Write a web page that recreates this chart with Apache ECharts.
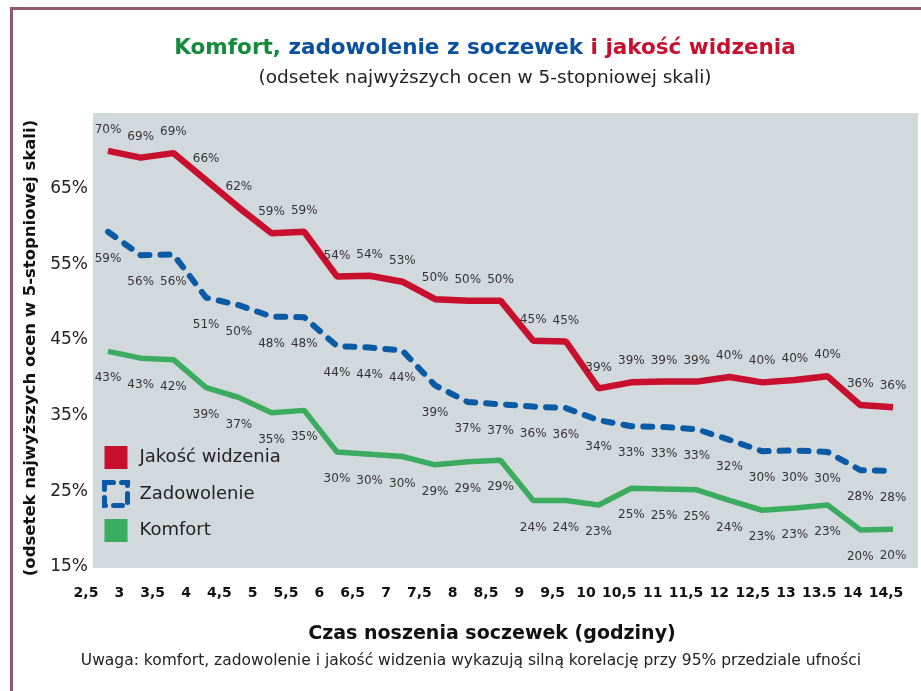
<!DOCTYPE html>
<html>
<head>
<meta charset="utf-8">
<script src="https://cdn.jsdelivr.net/npm/echarts@6/dist/echarts.min.js"></script>
<style>
  html, body { margin: 0; padding: 0; background: #fff; }
  #chart { width: 921px; height: 691px; }
</style>
</head>
<body>
<div id="chart"></div>
<script>
// godziny noszenia (etykiety osi X)
var xLabels = ['2,5', '3', '3,5', '4', '4,5', '5', '5,5', '6', '6,5', '7', '7,5', '8', '8,5',
  '9', '9,5', '10', '10,5', '11', '11,5', '12', '12,5', '13', '13.5', '14', '14,5']

// przebieg linii (%)
var jakosc = [70.0, 69.1, 69.7, 66.1, 62.5, 59.1, 59.3, 53.4, 53.5, 52.7, 50.4, 50.2, 50.2,
  44.9, 44.8, 38.6, 39.4, 39.5, 39.5, 40.1, 39.4, 39.7, 40.2, 36.4, 36.1]
var zadowolenie = [59.3, 56.2, 56.3, 50.6, 49.6, 48.1, 48.0, 44.2, 44.0, 43.6, 39.0, 36.8, 36.5,
  36.2, 36.0, 34.4, 33.6, 33.5, 33.2, 31.8, 30.3, 30.4, 30.2, 27.8, 27.7]
var komfort = [43.5, 42.6, 42.4, 38.7, 37.4, 35.4, 35.7, 30.2, 29.9, 29.6, 28.5, 28.9, 29.1,
  23.8, 23.8, 23.2, 25.4, 25.3, 25.2, 23.8, 22.5, 22.8, 23.2, 19.9, 20.0]

// wartosci podpisane na wykresie
var jakoscLabels = [70, 69, 69, 66, 62, 59, 59, 54, 54, 53, 50, 50, 50, 45, 45, 39, 39, 39, 39, 40, 40, 40, 40, 36, 36]
var zadowolenieLabels = [59, 56, 56, 51, 50, 48, 48, 44, 44, 44, 39, 37, 37, 36, 36, 34, 33, 33, 33, 32, 30, 30, 30, 28, 28]
var komfortLabels = [43, 43, 42, 39, 37, 35, 35, 30, 30, 30, 29, 29, 29, 24, 24, 23, 25, 25, 25, 24, 23, 23, 23, 20, 20]

var yTicks = [15, 25, 35, 45, 55, 65]

var RED = '#c8102e'
var BLUE = '#0a5aa5'
var GREEN = '#3bab5f'
var FONT = 'DejaVu Sans'

var myChart = echarts.init(document.getElementById('chart'), null, { renderer: 'canvas' })

function dataLabel(arr, pos, dist) {
  return {
    show: true,
    position: pos,
    distance: dist,
    fontFamily: FONT,
    fontSize: 12,
    color: '#333',
    formatter: function (p) { return arr[p.dataIndex] + '%' }
  }
}

var option = {
  backgroundColor: '#fff',
  animation: false,
  title: [
    {
      text: '{g|Komfort,} {b|zadowolenie z soczewek} {r|i jakość widzenia}',
      left: 485, top: 37, textAlign: 'center', padding: 0,
      textStyle: {
        fontFamily: FONT, fontSize: 21.5, fontWeight: 'bold',
        rich: {
          g: { color: '#138a3c', fontFamily: FONT, fontSize: 21.5, fontWeight: 'bold' },
          b: { color: '#0b4fa0', fontFamily: FONT, fontSize: 21.5, fontWeight: 'bold' },
          r: { color: RED, fontFamily: FONT, fontSize: 21.5, fontWeight: 'bold' }
        }
      }
    },
    {
      text: '(odsetek najwyższych ocen w 5-stopniowej skali)',
      left: 485, top: 69, textAlign: 'center', padding: 0,
      textStyle: { fontFamily: FONT, fontSize: 18.5, fontWeight: 'normal', color: '#222' }
    },
    {
      text: 'Czas noszenia soczewek (godziny)',
      left: 492, top: 625, textAlign: 'center', padding: 0,
      textStyle: { fontFamily: FONT, fontSize: 19, fontWeight: 'bold', color: '#111' }
    },
    {
      text: 'Uwaga: komfort, zadowolenie i jakość widzenia wykazują silną korelację przy 95% przedziale ufności',
      left: 471, top: 653, textAlign: 'center', padding: 0,
      textStyle: { fontFamily: FONT, fontSize: 15.5, fontWeight: 'normal', color: '#222' }
    }
  ],
  legend: {
    orient: 'vertical',
    left: 102, top: 446, padding: 0,
    itemWidth: 23, itemHeight: 23, itemGap: 11,
    textStyle: { fontFamily: FONT, fontSize: 18, color: '#222', padding: [0, 0, 0, 7] },
    data: [
      { name: 'Jakość widzenia', icon: 'rect', itemStyle: { color: RED, borderWidth: 0 } },
      { name: 'Zadowolenie', icon: 'rect',
        itemStyle: { color: 'rgba(0,0,0,0)', borderColor: BLUE, borderWidth: 5, borderType: [9, 8], borderCap: 'round' } },
      { name: 'Komfort', icon: 'rect', itemStyle: { color: GREEN, borderWidth: 0 } }
    ]
  },
  grid: [
    // linie danych
    { left: 108, right: 28, top: 113, bottom: 124 },
    // szare tlo
    { left: 93, right: 3, top: 113, bottom: 123, show: true, backgroundColor: '#d2d9dd', borderWidth: 0 },
    // podpisy osi X
    { left: 86, right: 35, top: 113, bottom: 124 }
  ],
  xAxis: [
    { gridIndex: 0, type: 'category', data: xLabels, boundaryGap: false, show: false },
    { gridIndex: 1, type: 'value', show: false },
    {
      gridIndex: 2, type: 'category', data: xLabels, boundaryGap: false,
      axisLine: { show: false }, axisTick: { show: false },
      axisLabel: { interval: 0, margin: 19, fontFamily: FONT, fontSize: 14, fontWeight: 'bold', color: '#111' }
    }
  ],
  yAxis: [
    {
      gridIndex: 0, type: 'value', min: 15, max: 75, interval: 10,
      name: '(odsetek najwyższych ocen w 5-stopniowej skali)',
      nameLocation: 'middle', nameRotate: 90, nameGap: 54,
      nameTextStyle: { fontFamily: FONT, fontSize: 16.5, fontWeight: 'bold', color: '#111', padding: [0, 16, 0, 0] },
      axisLine: { show: false }, axisTick: { show: false }, splitLine: { show: false },
      axisLabel: {
        margin: 20, fontFamily: FONT, fontSize: 17, color: '#222',
        formatter: function (v) { return yTicks.indexOf(v) >= 0 ? v + '%' : '' }
      }
    },
    { gridIndex: 1, type: 'value', show: false },
    { gridIndex: 2, type: 'value', show: false }
  ],
  series: [
    {
      name: 'Jakość widzenia', type: 'line', xAxisIndex: 0, yAxisIndex: 0,
      data: jakosc, showSymbol: true, symbol: 'circle', symbolSize: 0, z: 4,
      lineStyle: { color: RED, width: 6.5 },
      itemStyle: { color: RED },
      label: dataLabel(jakoscLabels, 'top', 15)
    },
    {
      name: 'Zadowolenie', type: 'line', xAxisIndex: 0, yAxisIndex: 0,
      data: zadowolenie, showSymbol: true, symbol: 'circle', symbolSize: 0, z: 3,
      lineStyle: { color: BLUE, width: 6, type: [9, 11], cap: 'round' },
      itemStyle: { color: BLUE },
      label: dataLabel(zadowolenieLabels, 'bottom', 21)
    },
    {
      name: 'Komfort', type: 'line', xAxisIndex: 0, yAxisIndex: 0,
      data: komfort, showSymbol: true, symbol: 'circle', symbolSize: 0, z: 3,
      lineStyle: { color: GREEN, width: 5.5 },
      itemStyle: { color: GREEN },
      label: dataLabel(komfortLabels, 'bottom', 21)
    }
  ],
  graphic: [
    {
      type: 'polyline', z: 10,
      shape: { points: [[11.5, 691], [11.5, 8.5], [921, 8.5]] },
      style: { stroke: '#8e5b6d', lineWidth: 3, fill: null }
    }
  ]
}

myChart.setOption(option)
</script>
</body>
</html>
